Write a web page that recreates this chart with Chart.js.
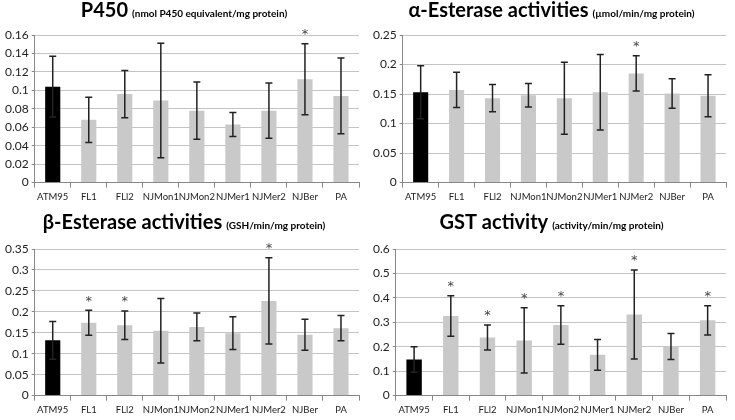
<!DOCTYPE html>
<html lang="en">
<head>
  <meta charset="UTF-8">
  <title>Detoxification enzyme activities</title>
  <script src="https://cdn.jsdelivr.net/npm/chart.js"></script>
  <style>
    body { margin: 0; background: #fff; }
    .grid { display: grid; grid-template-columns: 368px 367px; grid-template-rows: 210px 210px; width: 735px; height: 420px; }
    .cell { position: relative; width: 100%; height: 100%; }
  </style>
</head>
<body>
  <div class="grid">
    <div class="cell"><canvas id="p450"></canvas></div>
    <div class="cell"><canvas id="alpha"></canvas></div>
    <div class="cell"><canvas id="beta"></canvas></div>
    <div class="cell"><canvas id="gst"></canvas></div>
  </div>
  <script>
    // populations (x axis)
    const populations = ['ATM95', 'FL1', 'FLl2', 'NJMon1', 'NJMon2', 'NJMer1', 'NJMer2', 'NJBer', 'PA'];

    // P450 (nmol P450 equivalent/mg protein)
    const p450Mean = [0.104, 0.068, 0.096, 0.089, 0.078, 0.063, 0.078, 0.112, 0.094];
    const p450Err  = [0.033, 0.0245, 0.0256, 0.062, 0.031, 0.013, 0.030, 0.0385, 0.041];
    const p450Stars = ['NJBer'];

    // alpha-esterase (umol/min/mg protein)
    const alphaMean = [0.153, 0.157, 0.143, 0.148, 0.143, 0.153, 0.185, 0.151, 0.147];
    const alphaErr  = [0.045, 0.030, 0.023, 0.020, 0.061, 0.064, 0.030, 0.025, 0.0355];
    const alphaStars = ['NJMer2'];

    // beta-esterase (GSH/min/mg protein)
    const betaMean = [0.132, 0.174, 0.168, 0.155, 0.164, 0.149, 0.226, 0.145, 0.161];
    const betaErr  = [0.045, 0.030, 0.034, 0.077, 0.033, 0.039, 0.103, 0.037, 0.030];
    const betaStars = ['FL1', 'FLl2', 'NJMer2'];

    // GST (activity/min/mg protein)
    const gstMean = [0.148, 0.326, 0.238, 0.226, 0.289, 0.167, 0.332, 0.201, 0.308];
    const gstErr  = [0.052, 0.083, 0.051, 0.134, 0.079, 0.063, 0.182, 0.053, 0.060];
    const gstStars = ['FL1', 'FLl2', 'NJMon1', 'NJMon2', 'NJMer2', 'PA'];

    const FONT = 'Lato, "Open Sans", sans-serif';

    // title with a big bold part and a small unit part
    const splitTitle = {
      id: 'splitTitle',
      afterDraw(chart, args, opts) {
        const ctx = chart.ctx;
        ctx.save();
        ctx.fillStyle = '#000';
        ctx.textBaseline = 'alphabetic';
        ctx.font = 'bold 20px ' + FONT;
        const w1 = ctx.measureText(opts.main).width;
        ctx.font = 'bold 10px ' + FONT;
        const w2 = ctx.measureText(opts.unit).width;
        const x0 = chart.width / 2 - (w1 + 4 + w2) / 2;
        ctx.font = 'bold 20px ' + FONT;
        ctx.fillText(opts.main, x0, opts.y);
        ctx.font = 'bold 10px ' + FONT;
        ctx.fillText(opts.unit, x0 + w1 + 4, opts.y);
        ctx.restore();
      }
    };

    // error bars and significance stars
    const errorBars = {
      id: 'errorBars',
      afterDatasetsDraw(chart, args, opts) {
        const ctx = chart.ctx;
        const y = chart.scales.y;
        const meta = chart.getDatasetMeta(0);
        const mean = chart.data.datasets[0].data;
        ctx.save();
        meta.data.forEach((bar, i) => {
          const hi = y.getPixelForValue(mean[i] + opts.err[i]);
          const lo = y.getPixelForValue(mean[i] - opts.err[i]);
          ctx.strokeStyle = '#222';
          ctx.lineWidth = 1.5;
          ctx.beginPath();
          ctx.moveTo(bar.x, hi); ctx.lineTo(bar.x, lo);
          ctx.moveTo(bar.x - 3.5, hi); ctx.lineTo(bar.x + 3.5, hi);
          ctx.moveTo(bar.x - 3.5, lo); ctx.lineTo(bar.x + 3.5, lo);
          ctx.stroke();
          if (opts.stars.includes(chart.data.labels[i])) {
            ctx.fillStyle = '#444';
            ctx.font = '13px "DejaVu Sans", sans-serif';
            ctx.textAlign = 'center';
            ctx.textBaseline = 'middle';
            ctx.fillText('*', bar.x, hi - 9);
          }
        });
        ctx.restore();
      }
    };

    function makeChart(id, mean, err, stars, yMax, step, main, unit, titleY, padTop, padBottom) {
      new Chart(document.getElementById(id), {
        type: 'bar',
        data: {
          labels: populations,
          datasets: [{
            data: mean,
            backgroundColor: populations.map((p, i) => i === 0 ? '#000' : '#c9c9c9'),
            categoryPercentage: 1,
            barPercentage: 0.42
          }]
        },
        options: {
          responsive: true,
          maintainAspectRatio: false,
          animation: false,
          layout: { padding: { top: padTop, left: 2, right: 9, bottom: padBottom } },
          plugins: {
            legend: { display: false },
            tooltip: { enabled: false },
            splitTitle: { main: main, unit: unit, y: titleY },
            errorBars: { err: err, stars: stars }
          },
          scales: {
            x: {
              grid: { offset: true, drawOnChartArea: false, drawTicks: true, tickLength: 5, color: '#888' },
              border: { color: '#888' },
              ticks: { color: '#222', font: { family: FONT, size: 9.5 }, maxRotation: 0, autoSkip: false, padding: 4 }
            },
            y: {
              min: 0,
              max: yMax,
              grid: { color: '#c4c4c4', tickLength: 3, tickColor: '#888' },
              border: { color: '#888' },
              ticks: {
                stepSize: step,
                color: '#222',
                font: { family: FONT, size: 12 },
                padding: 3,
                callback: v => String(+v.toFixed(3))
              }
            }
          }
        },
        plugins: [splitTitle, errorBars]
      });
    }

    makeChart('p450', p450Mean, p450Err, p450Stars, 0.16, 0.02, 'P450', '(nmol P450 equivalent/mg protein)', 17, 35, 3);
    makeChart('alpha', alphaMean, alphaErr, alphaStars, 0.25, 0.05, 'α-Esterase activities', '(µmol/min/mg protein)', 17, 35, 3);
    makeChart('beta', betaMean, betaErr, betaStars, 0.35, 0.05, 'β-Esterase activities', '(GSH/min/mg protein)', 19, 39, 0);
    makeChart('gst', gstMean, gstErr, gstStars, 0.6, 0.1, 'GST activity', '(activity/min/mg protein)', 19, 39, 0);
  </script>
</body>
</html>
